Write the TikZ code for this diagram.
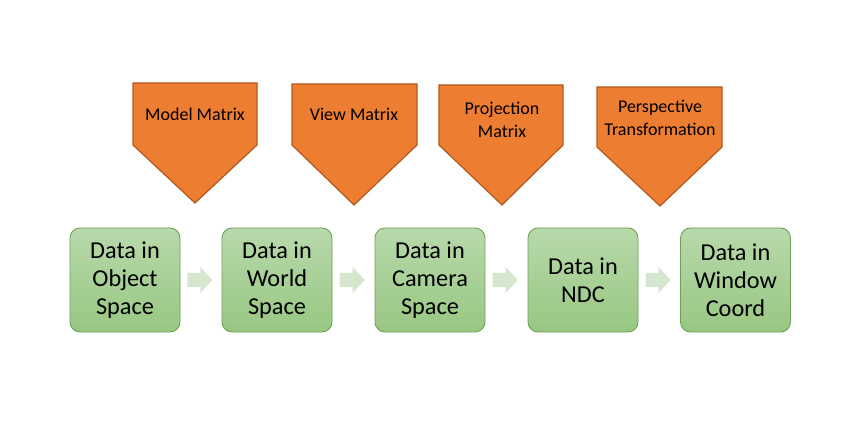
\documentclass[tikz,border=0pt]{standalone}
\usepackage{fontspec}
\setmainfont{Carlito}
\usetikzlibrary{calc}
\definecolor{orfill}{RGB}{237,125,49}
\definecolor{ordraw}{RGB}{174,90,33}
\definecolor{grtop}{RGB}{184,217,171}
\definecolor{grbot}{RGB}{152,199,130}
\definecolor{grdraw}{RGB}{113,160,90}
\definecolor{arfill}{RGB}{214,231,207}
\tikzset{
  databox/.style={rounded corners=10pt, draw=grdraw, line width=0.9pt, top color=grtop, bottom color=grbot,
    minimum width=110pt, minimum height=104pt, align=center, font=\fontsize{24.3}{28}\selectfont, inner sep=0pt},
  pentshape/.style={fill=orfill, draw=ordraw, line width=1.2pt, line join=miter},
  pentlabel/.style={align=center, font=\fontsize{18}{23}\selectfont, inner sep=0pt},
  flowarrow/.style={fill=arfill, draw=none}
}
\newcommand\flowarr[1]{%
  \fill[flowarrow] ($(#1)+(-12.5,-7)$) -- ($(#1)+(0.5,-7)$) -- ($(#1)+(0.5,-13)$) -- ($(#1)+(12.5,0)$)
    -- ($(#1)+(0.5,13)$) -- ($(#1)+(0.5,7)$) -- ($(#1)+(-12.5,7)$) -- cycle;}
\begin{document}
\begin{tikzpicture}[x=1pt,y=-1pt]
\useasboundingbox (0,0) rectangle (861,443);
\fill[white] (0,0) rectangle (861,443);
% data boxes
\node[databox] (b1) at (125,280) {Data in\\Object\\Space};
\node[databox] (b2) at (277,280) {Data in\\World\\Space};
\node[databox] (b3) at (430,280) {Data in\\Camera\\Space};
\node[databox] (b4) at (583,280) {Data in\\NDC};
\node[databox] (b5) at (735.5,280) {Data in\\Window\\Coord};
% flow arrows
\path (b1.east) -- (b2.west) coordinate[pos=0.47] (a1);
\path (b2.east) -- (b3.west) coordinate[pos=0.47] (a2);
\path (b3.east) -- (b4.west) coordinate[pos=0.47] (a3);
\path (b4.east) -- (b5.west) coordinate[pos=0.47] (a4);
\flowarr{a1}\flowarr{a2}\flowarr{a3}\flowarr{a4}
% pentagons
\draw[pentshape] (133,83) -- (257,83) -- (257,145) -- (195,203) -- (133,145) -- cycle;
\node[pentlabel] (p1) at (195,114) {Model Matrix};
\draw[pentshape] (292,84) -- (417,84) -- (417,145) -- (354,205) -- (292,145) -- cycle;
\node[pentlabel] (p2) at (354,114) {View Matrix};
\draw[pentshape] (439,85) -- (563,85) -- (563,145) -- (502,205) -- (439,145) -- cycle;
\node[pentlabel] (p3) at (502,119.5) {Projection\\Matrix};
\draw[pentshape] (597,87) -- (722,87) -- (722,147) -- (660,206) -- (597,147) -- cycle;
\node[pentlabel] (p4) at (660,118) {Perspective\\Transformation};
\end{tikzpicture}
\end{document}
